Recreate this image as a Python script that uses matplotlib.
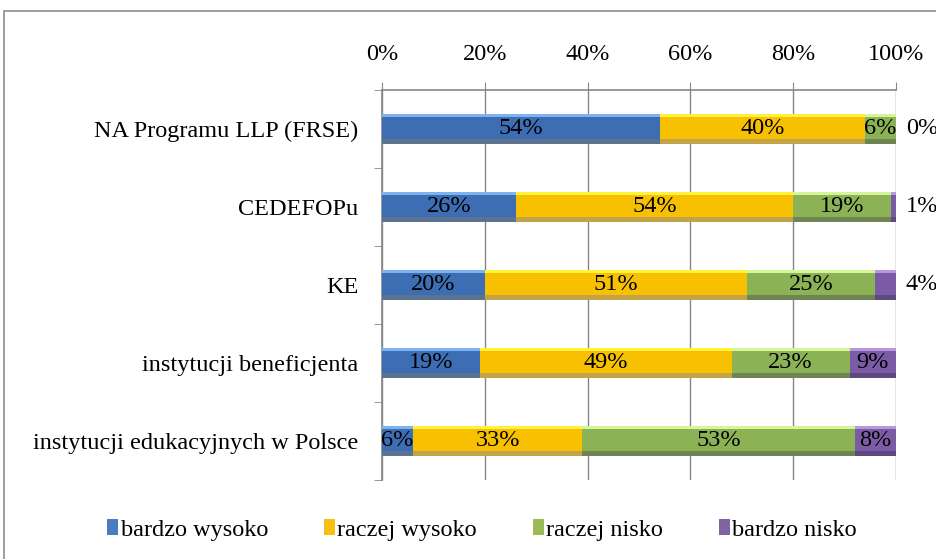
import matplotlib
matplotlib.use("Agg")
import matplotlib.pyplot as plt
from matplotlib.patches import Rectangle, Patch
import numpy as np

plt.rcParams['font.family'] = ['Liberation Serif', 'DejaVu Serif']

categories = ["NA Programu LLP (FRSE)", "CEDEFOPu", "KE",
              "instytucji beneficjenta", "instytucji edukacyjnych w Polsce"]
series_names = ["bardzo wysoko", "raczej wysoko", "raczej nisko", "bardzo nisko"]
bardzo_wysoko = [54, 26, 20, 19, 6]
raczej_wysoko = [40, 54, 51, 49, 33]
raczej_nisko = [6, 19, 25, 23, 53]
bardzo_nisko = [0, 1, 4, 9, 8]
series = [bardzo_wysoko, raczej_wysoko, raczej_nisko, bardzo_nisko]
xticks = [0, 20, 40, 60, 80, 100]
xtick_labels = ["0%", "20%", "40%", "60%", "80%", "100%"]

mid_colors = ["#3D6DB3", "#F7C000", "#8CB256", "#7C5BA6"]
top_colors = ["#7DB4F0", "#FFF23A", "#D6F59A", "#B897DD"]
bot_colors = ["#5B7391", "#C4A248", "#6E8452", "#5D4A7E"]
legend_colors = ["#4A7CC0", "#F5C010", "#9BBB59", "#8064A2"]

FS = 17.5

fig = plt.figure(figsize=(9.36, 5.59), dpi=100)
W, H = 936, 559
ax = fig.add_axes([382 / W, 1 - 480 / H, (896 - 382) / W, (480 - 90) / H])

ypos = np.arange(len(categories))
bh = 0.39
left = np.zeros(len(categories))
for vals, mc, tc, bc in zip(series, mid_colors, top_colors, bot_colors):
    v = np.array(vals, dtype=float)
    ax.barh(ypos, v, left=left, height=bh, color=mc, edgecolor='none', zorder=3)
    # top highlight
    ax.barh(ypos - bh / 2 + bh * 0.06, v, left=left, height=bh * 0.12,
            color=tc, edgecolor='none', zorder=4)
    # bottom shadow
    ax.barh(ypos + bh / 2 - bh * 0.08, v, left=left, height=bh * 0.16,
            color=bc, edgecolor='none', zorder=4)
    left += v

# labels
left = np.zeros(len(categories))
for si, vals in enumerate(series):
    for i, v in enumerate(vals):
        if si == 3 and v <= 4:
            ax.annotate(f"{v}%", xy=(100, ypos[i]), xytext=(7, 0),
                        textcoords='offset points', ha='left', va='center',
                        fontsize=FS, color='black', annotation_clip=False)
        else:
            ax.text(left[i] + v / 2, ypos[i], f"{v}%", ha='center', va='center',
                    fontsize=FS, color='black', zorder=6)
        left[i] += v

ax.set_xlim(0, 100)
ax.set_ylim(len(categories) - 0.5, -0.5)
ax.xaxis.tick_top()
ax.set_xticks(xticks)
ax.set_xticklabels(xtick_labels, fontsize=FS)
ax.tick_params(axis='x', length=6, color='#868686', pad=12, direction='out')
ax.set_yticks(ypos)
ax.set_yticklabels(categories, fontsize=FS)
ax.tick_params(axis='y', length=0, pad=17)
ax.set_yticks(np.arange(-0.5, len(categories) + 0.5, 1), minor=True)
ax.tick_params(axis='y', which='minor', length=6, color='#868686')
ax.grid(axis='x', color='#868686', linewidth=1.0, zorder=0)
for s in ['right', 'bottom']:
    ax.spines[s].set_visible(False)
for s in ['top', 'left']:
    ax.spines[s].set_color('#868686')
    ax.spines[s].set_linewidth(1.2)

# chart border
fig.patches.append(Rectangle((4 / W, -0.05), 1.1, 1 - 11 / H + 0.05,
                             transform=fig.transFigure, fill=False,
                             edgecolor='#8C8C8C', linewidth=1.2))

handles = [Patch(facecolor=c, edgecolor='none') for c in legend_colors]
fig.legend(handles, series_names, loc='center', bbox_to_anchor=(0.515, 1 - 530 / H),
           ncol=4, frameon=False, fontsize=FS, handlelength=0.45,
           handleheight=0.6, handletextpad=0.1, columnspacing=2.3)

fig.savefig("out.png", dpi=100)
